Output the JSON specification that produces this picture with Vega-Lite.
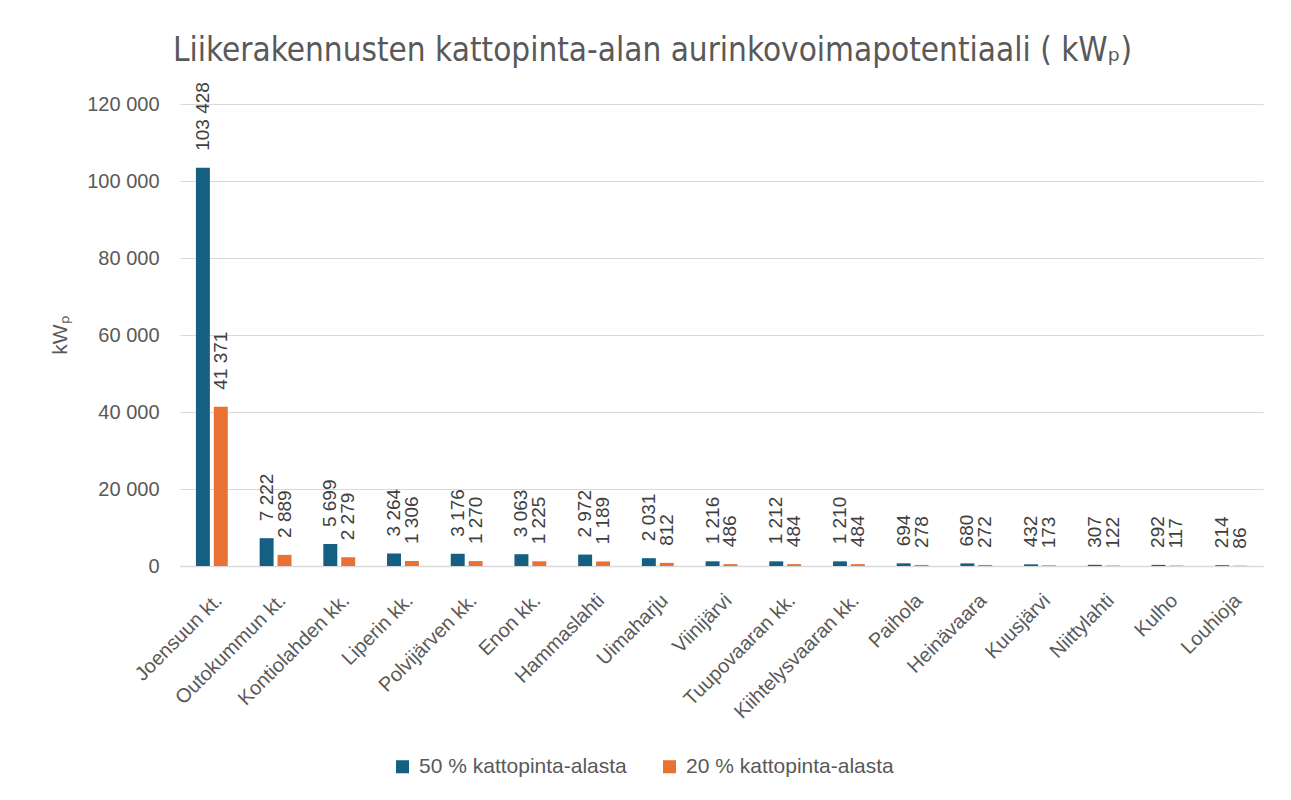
{
  "$schema": "https://vega.github.io/schema/vega-lite/v6.json",
  "width": 1083,
  "height": 462,
  "autosize": {"type": "none"},
  "padding": {"left": 180, "top": 104, "right": 28, "bottom": 234},
  "background": "white",
  "title": {
    "text": "Liikerakennusten kattopinta-alan aurinkovoimapotentiaali ( kWₚ)",
    "anchor": "middle",
    "dx": -69,
    "offset": 14,
    "font": "'DejaVu Sans Condensed', 'Liberation Sans', sans-serif",
    "fontSize": 33,
    "fontWeight": 300,
    "color": "#595959"
  },
  "config": {
    "locale": {"number": {"decimal": ",", "thousands": " ", "grouping": [3], "currency": ["", " €"]}},
    "view": {"stroke": null},
    "font": "Liberation Sans"
  },
  "data": {
    "values": [
      {"kohde": "Joensuun kt.", "sarja": "50 % kattopinta-alasta", "kwp": 103428},
      {"kohde": "Joensuun kt.", "sarja": "20 % kattopinta-alasta", "kwp": 41371},
      {"kohde": "Outokummun kt.", "sarja": "50 % kattopinta-alasta", "kwp": 7222},
      {"kohde": "Outokummun kt.", "sarja": "20 % kattopinta-alasta", "kwp": 2889},
      {"kohde": "Kontiolahden kk.", "sarja": "50 % kattopinta-alasta", "kwp": 5699},
      {"kohde": "Kontiolahden kk.", "sarja": "20 % kattopinta-alasta", "kwp": 2279},
      {"kohde": "Liperin kk.", "sarja": "50 % kattopinta-alasta", "kwp": 3264},
      {"kohde": "Liperin kk.", "sarja": "20 % kattopinta-alasta", "kwp": 1306},
      {"kohde": "Polvijärven kk.", "sarja": "50 % kattopinta-alasta", "kwp": 3176},
      {"kohde": "Polvijärven kk.", "sarja": "20 % kattopinta-alasta", "kwp": 1270},
      {"kohde": "Enon kk.", "sarja": "50 % kattopinta-alasta", "kwp": 3063},
      {"kohde": "Enon kk.", "sarja": "20 % kattopinta-alasta", "kwp": 1225},
      {"kohde": "Hammaslahti", "sarja": "50 % kattopinta-alasta", "kwp": 2972},
      {"kohde": "Hammaslahti", "sarja": "20 % kattopinta-alasta", "kwp": 1189},
      {"kohde": "Uimaharju", "sarja": "50 % kattopinta-alasta", "kwp": 2031},
      {"kohde": "Uimaharju", "sarja": "20 % kattopinta-alasta", "kwp": 812},
      {"kohde": "Viinijärvi", "sarja": "50 % kattopinta-alasta", "kwp": 1216},
      {"kohde": "Viinijärvi", "sarja": "20 % kattopinta-alasta", "kwp": 486},
      {"kohde": "Tuupovaaran kk.", "sarja": "50 % kattopinta-alasta", "kwp": 1212},
      {"kohde": "Tuupovaaran kk.", "sarja": "20 % kattopinta-alasta", "kwp": 484},
      {"kohde": "Kiihtelysvaaran kk.", "sarja": "50 % kattopinta-alasta", "kwp": 1210},
      {"kohde": "Kiihtelysvaaran kk.", "sarja": "20 % kattopinta-alasta", "kwp": 484},
      {"kohde": "Paihola", "sarja": "50 % kattopinta-alasta", "kwp": 694},
      {"kohde": "Paihola", "sarja": "20 % kattopinta-alasta", "kwp": 278},
      {"kohde": "Heinävaara", "sarja": "50 % kattopinta-alasta", "kwp": 680},
      {"kohde": "Heinävaara", "sarja": "20 % kattopinta-alasta", "kwp": 272},
      {"kohde": "Kuusjärvi", "sarja": "50 % kattopinta-alasta", "kwp": 432},
      {"kohde": "Kuusjärvi", "sarja": "20 % kattopinta-alasta", "kwp": 173},
      {"kohde": "Niittylahti", "sarja": "50 % kattopinta-alasta", "kwp": 307},
      {"kohde": "Niittylahti", "sarja": "20 % kattopinta-alasta", "kwp": 122},
      {"kohde": "Kulho", "sarja": "50 % kattopinta-alasta", "kwp": 292},
      {"kohde": "Kulho", "sarja": "20 % kattopinta-alasta", "kwp": 117},
      {"kohde": "Louhioja", "sarja": "50 % kattopinta-alasta", "kwp": 214},
      {"kohde": "Louhioja", "sarja": "20 % kattopinta-alasta", "kwp": 86}
    ]
  },
  "encoding": {
    "x": {
      "field": "kohde",
      "type": "nominal",
      "sort": null,
      "scale": {"paddingInner": 0.5, "paddingOuter": 0.25},
      "axis": {
        "title": null,
        "labelAngle": -45,
        "labelFontSize": 20,
        "labelColor": "#595959",
        "labelPadding": 24,
        "labelLimit": 300,
        "ticks": false,
        "domainColor": "#d9d9d9",
        "domainWidth": 1.5,
        "grid": false
      }
    },
    "xOffset": {
      "field": "sarja",
      "type": "nominal",
      "sort": ["50 % kattopinta-alasta", "20 % kattopinta-alasta"],
      "scale": {"paddingInner": 0.22}
    },
    "y": {
      "field": "kwp",
      "type": "quantitative",
      "scale": {"domain": [0, 120000], "nice": false},
      "axis": {
        "title": "kWₚ",
        "titleFontSize": 21,
        "titleFontWeight": "normal",
        "titleColor": "#595959",
        "titlePadding": 16,
        "values": [0, 20000, 40000, 60000, 80000, 100000, 120000],
        "format": ",d",
        "labelFontSize": 20,
        "labelColor": "#595959",
        "labelPadding": 21,
        "ticks": false,
        "domain": false,
        "gridColor": "#d9d9d9",
        "gridWidth": 1.2
      }
    }
  },
  "layer": [
    {
      "mark": {"type": "bar"},
      "encoding": {
        "color": {
          "field": "sarja",
          "type": "nominal",
          "scale": {"domain": ["50 % kattopinta-alasta", "20 % kattopinta-alasta"], "range": ["#156082", "#E97132"]},
          "legend": {
            "title": null,
            "orient": "none",
            "direction": "horizontal",
            "legendX": 212,
            "legendY": 652,
            "symbolType": "square",
            "symbolSize": 170,
            "symbolOpacity": 1,
            "labelFontSize": 21,
            "labelColor": "#595959",
            "labelLimit": 400,
            "columnPadding": 32,
            "labelOffset": 6
          }
        }
      }
    },
    {
      "mark": {
        "type": "text",
        "angle": 270,
        "align": "left",
        "baseline": "middle",
        "dx": 17,
        "fontSize": 19,
        "color": "#404040"
      },
      "encoding": {
        "text": {"field": "kwp", "type": "quantitative", "format": ",d"}
      }
    }
  ]
}
